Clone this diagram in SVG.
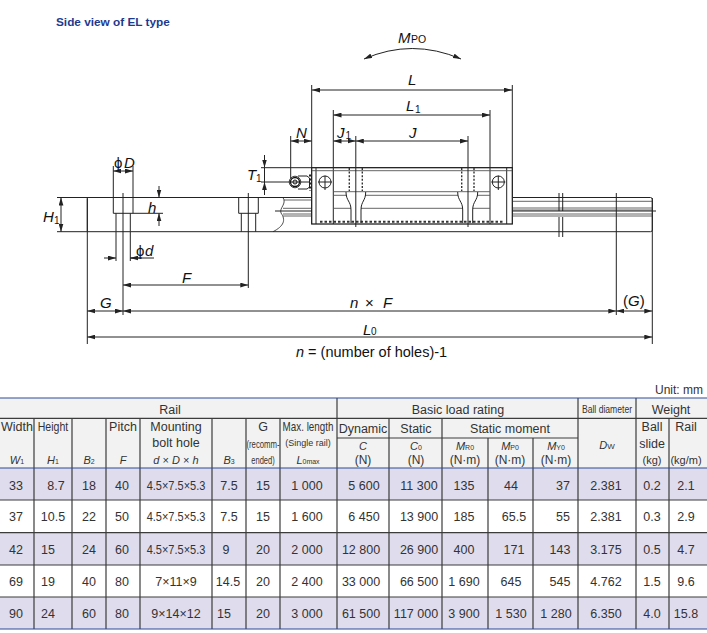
<svg xmlns="http://www.w3.org/2000/svg" width="707" height="633" viewBox="0 0 707 633">
<style>
text{font-family:"Liberation Sans",Arial,sans-serif;fill:#222}
.l{font-style:italic;font-size:15px;fill:#111}
.u{font-size:10px;fill:#111}
.c{text-anchor:middle;font-size:12.500px;fill:#333}
.h{text-anchor:middle;font-size:12px;fill:#333}
.w{text-anchor:middle;font-size:12.500px;fill:#333}
.n{text-anchor:middle;font-size:10.500px;fill:#333}
.i{text-anchor:middle;font-style:italic;font-size:11px;fill:#333}
.sb{font-size:7px;font-style:normal}
.t{fill:none;stroke:#222;stroke-width:1}
.m{fill:none;stroke:#555;stroke-width:.9}
.d{fill:none;stroke:#222;stroke-width:1}
.dot{fill:none;stroke:#333;stroke-width:1.400;stroke-dasharray:2 1.600}
.g{stroke:#3c3c3c;stroke-width:1.200;fill:none}
.bl{stroke:#2a4a9a;stroke-width:1;fill:none}
</style>
<defs>
<marker id="a" viewBox="0 0 10 6" refX="10" refY="3" markerWidth="8" markerHeight="5" markerUnits="userSpaceOnUse" orient="auto-start-reverse"><path d="M0 0L10 3L0 6Z" fill="#222"/></marker>
</defs>
<text x="56" y="26" style="font-weight:bold;font-size:11.800px;fill:#1d3a8f">Side view of EL type</text>

<g id="rail">
<path class="t" d="M57 197.500H311.500M513 197.500H650.500Q652.300 197.500 652.300 199.500V230Q652.300 231.700 650.500 231.700H57M87.300 198.500V231"/>
<path class="m" d="M513 201.300H652M513 208H652M513 210H652M513 214H652M513 216H652M284 200H311M283 208.300H311M283 214H311M283 216H311"/>
<path class="t" d="M275 211H315M505 211H656"/>
<path d="M283 197.500C287 204 279 208 281 213C286 220 284 226 273 231.700" fill="none" stroke="#222" stroke-width=".8"/>
<path class="t" d="M559 193V211M562.700 193V211M559 217V237M562.700 217V237"/>
</g>

<g id="holes">
<path class="t" d="M113.300 197.500V213.300H133V197.500M116 213.300V231.700M130.300 213.300V231.700M238.700 197.500V213.300H258.300V197.500M241.300 213.300V231.700M255.700 213.300V231.700"/>
<path class="t" d="M123 193V315M248.300 193V288"/>
</g>

<g id="block">
<rect x="311.700" y="167.700" width="200.600" height="56.300" fill="#fff" stroke="#111" stroke-width="1.200"/>
<path class="t" d="M316 168V224M333.300 168V224M490 168V224M506.700 168V224"/>
<path class="m" d="M312 170.700H512M333.300 191.700H490M333.300 195.300H347M365 195.300H458M477 195.300H490M333.300 208.300H351M361 208.300H462.700M472.700 208.300H490"/>
<path class="dot" d="M349.300 168V191M362.300 168V191M461.700 168V191M474 168V191"/>
<path class="dot" style="stroke-width:2;stroke-dasharray:2.500 2" d="M320 221.700H503"/>
<path class="t" d="M346 192C346 201 351 201 351 210V223M365.700 192C365.700 201 361 201 361 210V223M457.700 192C457.700 201 462.700 201 462.700 210V223M477.700 192C477.700 201 472.700 201 472.700 210V223"/>
<circle class="t" cx="325" cy="182" r="6"/>
<circle class="t" cx="498.300" cy="182" r="6"/>
<path class="t" d="M318 182H332M325 175.700V190M491.300 182H505.300M498.300 175.700V190"/>
<path d="M298 176H307L309.500 178V187L307 189H298" fill="#fff" stroke="#222"/>
<circle cx="295" cy="182" r="5.800" fill="#fff" stroke="#444"/>
<circle cx="295" cy="182" r="4.500" fill="none" stroke="#111" stroke-width="1.300"/>
<circle cx="295" cy="182" r="2" fill="none" stroke="#111"/>
<path class="t" d="M310 174.500V191" style="stroke-width:2;stroke-dasharray:2 2"/>
</g>

<g id="connectors">
<path class="d" d="M311.700 168V85M512.300 168V85M333.300 168V110M490 168V110M290.700 178V136M355.800 227V136M468 227V136M261 167.700H312M261 182H309"/>
<path class="d" d="M87.300 198V344M652.300 198V344M616.300 193V315M113.300 197V166M133 197V166M116 232V261M130.300 232V261M133 213.300H163"/>
<line class="d" x1="312" y1="90" x2="512" y2="90" marker-start="url(#a)" marker-end="url(#a)"/>
<line class="d" x1="333.500" y1="115" x2="490" y2="115" marker-start="url(#a)" marker-end="url(#a)"/>
<line class="d" x1="290.700" y1="141" x2="311.700" y2="141" marker-start="url(#a)" marker-end="url(#a)"/>
<line class="d" x1="333.500" y1="141" x2="355.800" y2="141" marker-start="url(#a)" marker-end="url(#a)"/>
<line class="d" x1="355.800" y1="141" x2="468" y2="141" marker-start="url(#a)" marker-end="url(#a)"/>
<line class="d" x1="264.500" y1="155" x2="264.500" y2="167.500" marker-end="url(#a)"/>
<line class="d" x1="264.500" y1="195" x2="264.500" y2="182" marker-end="url(#a)"/>
<path class="d" d="M264.500 167.500V182"/>
<line class="d" x1="61" y1="197.500" x2="61" y2="231.700" marker-start="url(#a)" marker-end="url(#a)"/>
<line class="d" x1="113.300" y1="171" x2="133" y2="171" marker-start="url(#a)" marker-end="url(#a)"/>
<line class="d" x1="159" y1="186" x2="159" y2="197.500" marker-end="url(#a)"/>
<line class="d" x1="159" y1="226" x2="159" y2="213.300" marker-end="url(#a)"/>
<line class="d" x1="104" y1="258" x2="116" y2="258" marker-end="url(#a)"/>
<path class="d" d="M130.300 258H154"/>
<line class="d" x1="142" y1="258" x2="130.300" y2="258" marker-end="url(#a)"/>
<line class="d" x1="123" y1="285" x2="248.300" y2="285" marker-start="url(#a)" marker-end="url(#a)"/>
<line class="d" x1="87.300" y1="311" x2="123" y2="311" marker-start="url(#a)" marker-end="url(#a)"/>
<line class="d" x1="123" y1="311" x2="616.300" y2="311" marker-start="url(#a)" marker-end="url(#a)"/>
<line class="d" x1="616.300" y1="311" x2="652.300" y2="311" marker-start="url(#a)" marker-end="url(#a)"/>
<line class="d" x1="87.300" y1="337" x2="652.300" y2="337" marker-start="url(#a)" marker-end="url(#a)"/>
<path d="M364 59Q412 38 461 59" class="d" marker-start="url(#a)" marker-end="url(#a)"/>
</g>

<g id="dim-labels">
<text class="l" x="398" y="43">M</text><text x="411" y="43" style="font-size:10.500px;fill:#111">PO</text>
<text class="l" x="408" y="85">L</text>
<text class="l" x="406" y="111">L</text><text class="u" x="415" y="113">1</text>
<text class="l" x="296" y="138">N</text>
<text class="l" x="337" y="138">J</text><text class="u" x="345.500" y="139">1</text>
<text class="l" x="409" y="138">J</text>
<text class="l" x="247" y="180">T</text><text class="u" x="256" y="182">1</text>
<text class="l" x="43" y="222">H</text><text class="u" x="54" y="224">1</text>
<text class="l" x="114" y="168" style="font-style:normal">ϕ</text><text class="l" x="124" y="168">D</text>
<text class="l" x="148" y="213">h</text>
<text class="l" x="136" y="256" style="font-style:normal">ϕ</text><text class="l" x="145" y="256">d</text>
<text class="l" x="182" y="283">F</text>
<text class="l" x="100" y="308">G</text>
<text class="l" x="350" y="308">n</text><text class="l" x="365" y="308" style="font-style:normal">×</text><text class="l" x="383" y="308">F</text>
<text class="l" x="623" y="306" style="font-style:normal">(<tspan style="font-style:italic">G</tspan>)</text>
<text class="l" x="363" y="335">L</text><text class="u" x="371" y="335">0</text>
<text x="296" y="357" style="font-size:14.500px;fill:#111"><tspan style="font-style:italic">n</tspan> = (number of holes)-1</text>
<text x="703" y="394" style="font-size:12px;text-anchor:end;fill:#333">Unit: mm</text>
</g>

<g id="table">
<rect x="0" y="398" width="707" height="70" fill="#f2f2f2"/>
<rect x="0" y="468" width="707" height="32" fill="#dfdcee"/>
<rect x="0" y="532.700" width="707" height="32.300" fill="#dfdcee"/>
<rect x="0" y="597" width="707" height="32" fill="#dfdcee"/>
<path class="g" d="M0 418.300H707M337 438H578M0 500H707M0 532.700H707M0 565H707M0 597H707"/>
<path class="g" d="M34 418.300V629M72 418.300V629M106 418.300V629M140 418.300V629M212 418.300V629M246 418.300V629M280 418.300V629M337 398V629M389 418.300V629M442 418.300V629M488 438V629M533 438V629M578 398V629M636 398V629M669 418.300V629"/>
<path class="bl" d="M0 398H707M0 468H707M0 629H707"/>

<text class="w" x="170" y="414">Rail</text>
<text class="w" x="458" y="414">Basic load rating</text>
<text class="n" transform="translate(607 413) scale(.82 1)">Ball diameter</text>
<text class="w" x="671" y="414">Weight</text>

<text class="w" x="17" y="431">Width</text>
<text class="h" transform="translate(53 431) scale(.88 1)">Height</text>
<text class="w" x="123" y="431">Pitch</text>
<text class="w" x="176" y="431">Mounting</text>
<text class="w" x="176" y="447">bolt hole</text>
<text class="w" x="263" y="431">G</text>
<text class="n" transform="translate(263 448) scale(.74 1)">(recomm-</text>
<text class="n" transform="translate(263 464) scale(.72 1)">ended)</text>
<text class="h" transform="translate(308 431) scale(.82 1)">Max. length</text>
<text class="h" transform="translate(308 446) scale(.95 1)" style="font-size:9.500px">(Single rail)</text>

<text class="i" x="17" y="464">W<tspan class="sb">1</tspan></text>
<text class="i" x="53" y="464">H<tspan class="sb">1</tspan></text>
<text class="i" x="89" y="464">B<tspan class="sb">2</tspan></text>
<text class="i" x="123" y="464">F</text>
<text class="i" x="176" y="464">d <tspan style="font-style:normal">×</tspan> D <tspan style="font-style:normal">×</tspan> h</text>
<text class="i" x="229" y="464">B<tspan class="sb">3</tspan></text>
<text class="i" x="308" y="464">L<tspan class="sb">0max</tspan></text>

<text class="w" x="363" y="433">Dynamic</text>
<text class="w" x="416" y="433">Static</text>
<text class="w" x="510" y="433">Static moment</text>
<text class="i" x="363" y="450">C</text><text class="h" x="363" y="464">(N)</text>
<text class="i" x="416" y="450">C<tspan class="sb">0</tspan></text><text class="h" x="416" y="464">(N)</text>
<text class="i" x="465" y="450">M<tspan class="sb">R0</tspan></text><text class="h" x="465" y="464">(N·m)</text>
<text class="i" x="510" y="450">M<tspan class="sb">P0</tspan></text><text class="h" x="510" y="464">(N·m)</text>
<text class="i" x="556" y="450">M<tspan class="sb">Y0</tspan></text><text class="h" x="556" y="464">(N·m)</text>
<text class="i" x="607" y="449">D<tspan style="font-size:8px;font-style:normal">W</tspan></text>
<text class="w" x="652" y="431">Ball</text>
<text class="w" x="652" y="448">slide</text>
<text class="h" x="652" y="464" style="font-size:11px">(kg)</text>
<text class="w" x="686" y="431">Rail</text>
<text class="h" x="686" y="464" style="font-size:11px">(kg/m)</text>

<g id="row1">
<text class="c" x="16" y="490">33</text><text class="c" x="56" y="490">8.7</text><text class="c" x="89" y="490">18</text><text class="c" x="122" y="490">40</text><text class="c" transform="translate(176 490) scale(.88 1)">4.5×7.5×5.3</text><text class="c" x="229" y="490">7.5</text><text class="c" x="263" y="490">15</text><text class="c" x="307" y="490">1 000</text><text class="c" x="364" y="490">5 600</text><text class="c" x="419" y="490">11 300</text><text class="c" x="464" y="490">135</text><text class="c" x="511" y="490">44</text><text class="c" x="563" y="490">37</text><text class="c" x="606" y="490">2.381</text><text class="c" x="652" y="490">0.2</text><text class="c" x="686" y="490">2.1</text>
</g>
<g id="row2">
<text class="c" x="16" y="521">37</text><text class="c" x="53" y="521">10.5</text><text class="c" x="89" y="521">22</text><text class="c" x="122" y="521">50</text><text class="c" transform="translate(176 521) scale(.88 1)">4.5×7.5×5.3</text><text class="c" x="229" y="521">7.5</text><text class="c" x="263" y="521">15</text><text class="c" x="307" y="521">1 600</text><text class="c" x="364" y="521">6 450</text><text class="c" x="419" y="521">13 900</text><text class="c" x="464" y="521">185</text><text class="c" x="514" y="521">65.5</text><text class="c" x="563" y="521">55</text><text class="c" x="606" y="521">2.381</text><text class="c" x="652" y="521">0.3</text><text class="c" x="686" y="521">2.9</text>
</g>
<g id="row3">
<text class="c" x="16" y="554">42</text><text class="c" x="48" y="554">15</text><text class="c" x="89" y="554">24</text><text class="c" x="122" y="554">60</text><text class="c" transform="translate(176 554) scale(.88 1)">4.5×7.5×5.3</text><text class="c" x="226" y="554">9</text><text class="c" x="263" y="554">20</text><text class="c" x="307" y="554">2 000</text><text class="c" x="361" y="554">12 800</text><text class="c" x="419" y="554">26 900</text><text class="c" x="464" y="554">400</text><text class="c" x="514" y="554">171</text><text class="c" x="560" y="554">143</text><text class="c" x="606" y="554">3.175</text><text class="c" x="652" y="554">0.5</text><text class="c" x="686" y="554">4.7</text>
</g>
<g id="row4">
<text class="c" x="16" y="586">69</text><text class="c" x="48" y="586">19</text><text class="c" x="89" y="586">40</text><text class="c" x="122" y="586">80</text><text class="c" x="176" y="586">7×11×9</text><text class="c" x="228" y="586">14.5</text><text class="c" x="263" y="586">20</text><text class="c" x="307" y="586">2 400</text><text class="c" x="361" y="586">33 000</text><text class="c" x="419" y="586">66 500</text><text class="c" x="464" y="586">1 690</text><text class="c" x="511" y="586">645</text><text class="c" x="560" y="586">545</text><text class="c" x="606" y="586">4.762</text><text class="c" x="652" y="586">1.5</text><text class="c" x="686" y="586">9.6</text>
</g>
<g id="row5">
<text class="c" x="16" y="618">90</text><text class="c" x="48" y="618">24</text><text class="c" x="89" y="618">60</text><text class="c" x="122" y="618">80</text><text class="c" x="176" y="618">9×14×12</text><text class="c" x="224" y="618">15</text><text class="c" x="263" y="618">20</text><text class="c" x="307" y="618">3 000</text><text class="c" x="361" y="618">61 500</text><text class="c" x="416" y="618">117 000</text><text class="c" x="464" y="618">3 900</text><text class="c" x="511" y="618">1 530</text><text class="c" x="556" y="618">1 280</text><text class="c" x="606" y="618">6.350</text><text class="c" x="652" y="618">4.0</text><text class="c" x="686" y="618">15.8</text>
</g>
</g>
</svg>
